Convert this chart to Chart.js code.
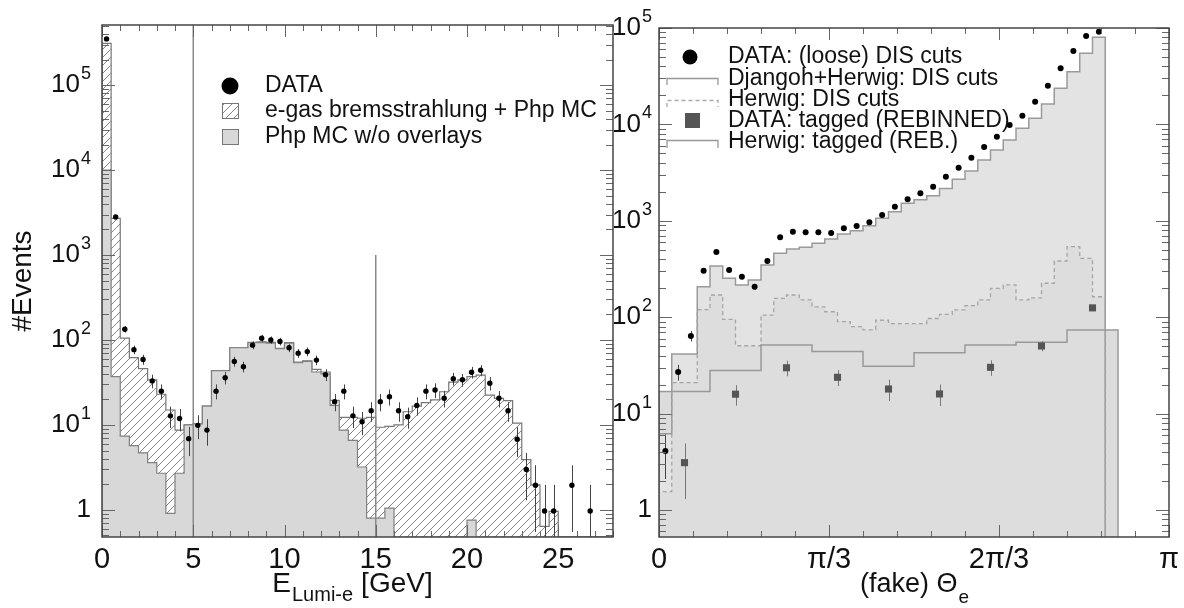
<!DOCTYPE html>
<html lang="en">
<head>
<meta charset="UTF-8">
<title>Lumi-e energy and (fake) theta_e</title>
<script src="https://cdn.jsdelivr.net/npm/chart.js@4.4.1/dist/chart.umd.min.js"></script>
<style>
  body { margin: 0; background: #fff; width: 1184px; height: 608px; position: relative; overflow: hidden; }
  canvas { position: absolute; top: 0; }
  #left { left: 0; }
  #right { left: 605px; }
</style>
</head>
<body>
<canvas id="left" width="620" height="608"></canvas>
<canvas id="right" width="579" height="608"></canvas>
<script>
// ---------- left panel: E_Lumi-e, 0.5 GeV bins from 0 to 28 GeV ----------
const eBin = 0.5;
const eTotal = [3.1e5, 2700, 105, 62, 46, 34, 23, 15, 8.7, 10,
  10.3, 16.7, 43.5, 43.5, 81, 81, 94, 95, 94, 80,
  93, 55, 57, 45, 42, 19.5, 12.3, 12.3, 12, 12.3,
  9.4, 9.6, 10, 14.3, 16.7, 18.3, 19.7, 24.6, 32, 34,
  37, 38.7, 22.5, 20.6, 19.3, 10.5, 3.9, 1.97, 0.64, 0.96,
  0, 0, 0, 0, 0, 0];
const ePhp = [1e4, 37, 7.4, 5.7, 4.7, 3.6, 2.7, 0.91, 2.7, 10,
  10.3, 16.7, 43.5, 43.5, 81, 81, 93, 93, 92, 79,
  92, 54, 56, 42, 40, 17, 8.7, 6.6, 3.2, 0.8,
  0.8, 1.05, 0, 0, 0, 0, 0, 0, 0, 0,
  0.76, 0, 0, 0, 0, 0, 0, 0, 0, 0,
  0, 0, 0, 0, 0, 0];
const eData = [3.5e5, 2800, 134, 77, 59, 33, 25, 12.8, 11.9, 6.9,
  9.9, 8.7, 25, 36, 56, 48.5, 87, 105, 100, 96,
  81, 70, 73, 58, 39, 18.8, 25, 12.8, 10.9, 14.7,
  18.8, 21.5, 14.7, 12.5, 17, 25, 25.8, 20.6, 35, 34,
  41.7, 44, 31, 20.6, 14.7, 6.8, 3.0, 1.95, 0.97, 0.97,
  null, 1.95, null, 0.97, null, null];
const eDataErr = [600, 53, 12, 9, 8, 6, 5, 3.6, 3.5, 2.6,
  3.1, 3, 5, 6, 7.5, 7, 9.3, 10, 10, 9.8,
  9, 8.4, 8.5, 7.6, 6.2, 4.3, 5, 3.6, 3.3, 3.8,
  4.3, 4.6, 3.8, 3.5, 4.1, 5, 5.1, 4.5, 5.9, 5.8,
  6.5, 6.6, 5.6, 4.5, 3.8, 2.6, 1.7, 1.4, 1, 1,
  null, 1.4, null, 1, null, null];
const eCuts = [5, 15];
const eCutTop = [5.1e5, 1000];
const eTickValues = [0, 5, 10, 15, 20, 25];
const eTickLabels = ['0', '5', '10', '15', '20', '25'];

// ---------- right panel: (fake) theta_e, pi/40 bins ----------
const tBin = Math.PI / 40;
const disData = [4.1, 27, 64, 304, 475, 309, 263, 207, 383, 674,
  771, 760, 760, 747, 836, 884, 964, 1148, 1403, 1671,
  1928, 2260, 2870, 3556, 4520, 5835, 7460, 9860, 12300, 17200,
  25200, 38200, 57700, 82600, 91600];
const disErr = [2, 5, 8, 17, 22, 18, 16, 14, 20, 26,
  28, 28, 28, 27, 29, 30, 31, 34, 37, 41,
  44, 48, 54, 60, 67, 76, 86, 99, 111, 131,
  159, 195, 240, 287, 303];
const djangoh = [6.2, 41.5, 41.5, 207, 340, 253, 216, 243, 348, 460,
  510, 531, 584, 648, 730, 790, 889, 1061, 1244, 1518,
  1650, 1822, 2168, 2694, 3290, 4272, 5422, 6888, 9110, 11560,
  16280, 23660, 35240, 54600, 80000];
const herwigDis = [1.55, 21, 21, 120, 170, 95, 50.6, 50.6, 105, 157,
  170, 151, 128, 114, 90, 80, 74, 93, 86, 86,
  86, 97, 107, 119, 132, 151, 199, 216, 151, 159,
  225, 383, 539, 408, 163];
const tagBin = Math.PI / 10;
const herwigTagged = [17, 28, 51.5, 44, 31, 42.8, 51.5, 55, 73.6];
const taggedData = [3.1, 15.9, 29.9, 23.8, 18, 16, 30.2, 50.3, 125];
const taggedErr = [1.8, 3.8, 5.5, 4.5, 4.5, 4, 5.5, 6, 9];
const tTickValues = [0, Math.PI / 3, 2 * Math.PI / 3, Math.PI];
const tTickLabels = ['0', 'π/3', '2π/3', 'π'];

const E_MIN = 0.48, E_MAX = 5.1e5;
const T_MIN = 0.525, T_MAX = 1e5;
const FONT = '"Liberation Sans", Arial, Helvetica, sans-serif';

// histogram outline as step points (bin left edges + closing edge)
function stepPoints(width, vals, floor) {
  const pts = [{ x: 0, y: floor }];
  vals.forEach((v, i) => pts.push({ x: i * width, y: Math.max(v, floor) }));
  const end = vals.length * width;
  pts.push({ x: end, y: Math.max(vals[vals.length - 1], floor) });
  pts.push({ x: end, y: floor });
  return pts;
}
function centerPoints(width, vals, errs) {
  const pts = [];
  vals.forEach((v, i) => { if (v !== null) pts.push({ x: (i + 0.5) * width, y: v, e: errs[i] }); });
  return pts;
}

function hatchPattern() {
  const c = document.createElement('canvas');
  c.width = 8; c.height = 8;
  const g = c.getContext('2d');
  g.fillStyle = '#fff'; g.fillRect(0, 0, 8, 8);
  g.strokeStyle = '#858585'; g.lineWidth = 1;
  g.beginPath();
  g.moveTo(-1, 9); g.lineTo(9, -1);
  g.moveTo(-1, 1); g.lineTo(1, -1);
  g.moveTo(7, 9); g.lineTo(9, 7);
  g.stroke();
  return g.createPattern(c, 'repeat');
}
const hatch = hatchPattern();

// vertical error bars, drawn just before their dataset
const errorBars = {
  id: 'errorBars',
  beforeDatasetDraw(chart, args) {
    const ds = chart.data.datasets[args.index];
    if (!ds.errColor) return;
    const { ctx, chartArea: a } = chart;
    const y = chart.scales.y;
    ctx.save();
    ctx.beginPath(); ctx.rect(a.left, a.top, a.right - a.left, a.bottom - a.top); ctx.clip();
    ctx.strokeStyle = ds.errColor; ctx.lineWidth = 1;
    ctx.beginPath();
    args.meta.data.forEach((pt, i) => {
      const d = ds.data[i];
      if (!d.e) return;
      const lo = d.y - d.e > y.min ? y.getPixelForValue(d.y - d.e) : a.bottom;
      const hi = y.getPixelForValue(d.y + d.e);
      const px = Math.round(pt.x) + 0.5;
      ctx.moveTo(px, lo); ctx.lineTo(px, hi);
    });
    ctx.stroke();
    ctx.restore();
  }
};

function makeAxes(cfg) {
  return {
    id: 'axes',
    afterDraw(chart) {
      const { ctx, chartArea: a } = chart;
      const x = chart.scales.x, y = chart.scales.y;
      ctx.save();
      ctx.strokeStyle = '#666'; ctx.lineWidth = 1;
      ctx.beginPath();
      const d0 = Math.floor(Math.log10(y.min)), d1 = Math.ceil(Math.log10(y.max));
      for (let d = d0; d <= d1; d++) {
        for (let m = 1; m < 10; m++) {
          const v = m * Math.pow(10, d);
          if (v < y.min * 0.999 || v > y.max * 1.001) continue;
          const py = Math.round(y.getPixelForValue(v)) + 0.5;
          const len = m === 1 ? 13 : 7;
          ctx.moveTo(a.left, py); ctx.lineTo(a.left + len, py);
          ctx.moveTo(a.right, py); ctx.lineTo(a.right - len, py);
        }
      }
      const n = Math.round((x.max - x.min) / cfg.xStep);
      for (let i = 0; i <= n; i++) {
        const px = Math.round(x.getPixelForValue(x.min + i * cfg.xStep)) + 0.5;
        const len = i % cfg.xMajorEvery === 0 ? 12 : 6;
        ctx.moveTo(px, a.bottom); ctx.lineTo(px, a.bottom - len);
        ctx.moveTo(px, a.top); ctx.lineTo(px, a.top + len);
      }
      ctx.stroke();
      ctx.lineWidth = 1.5; ctx.strokeStyle = '#444';
      ctx.strokeRect(a.left, a.top, a.right - a.left, a.bottom - a.top);

      // y labels 1, 10^1 ... 10^5
      ctx.fillStyle = '#111';
      ctx.textBaseline = 'middle';
      ctx.textAlign = 'right';
      const right = a.left - cfg.yLabelGap;
      for (let d = Math.ceil(Math.log10(y.min)); d <= Math.floor(Math.log10(y.max) + 1e-9); d++) {
        const py = y.getPixelForValue(Math.pow(10, d));
        if (d === 0) {
          ctx.font = '26px ' + FONT;
          ctx.fillText('1', right, py);
          continue;
        }
        ctx.font = '18px ' + FONT;
        const sw = ctx.measureText(String(d)).width;
        ctx.fillText(String(d), right, py - 11);
        ctx.font = '26px ' + FONT;
        ctx.fillText('10', right - sw - 1, py);
      }
      // x labels
      ctx.font = '29px ' + FONT;
      ctx.textAlign = 'center';
      ctx.textBaseline = 'alphabetic';
      cfg.xLabels.forEach((t, i) => ctx.fillText(t, x.getPixelForValue(cfg.xLabelValues[i]), 568));

      cfg.extra(ctx);
      ctx.restore();
    }
  };
}

function baseOptions(xMax, yMin, yMax, pad) {
  return {
    responsive: false, animation: false, events: [],
    layout: { padding: pad },
    plugins: { legend: { display: false }, tooltip: { enabled: false } },
    scales: {
      x: { type: 'linear', min: 0, max: xMax, display: false },
      y: { type: 'logarithmic', min: yMin, max: yMax, display: false }
    }
  };
}

// ---------- left chart ----------
const leftDatasets = [
  { data: stepPoints(eBin, eTotal, E_MIN), stepped: true, fill: 'start', backgroundColor: hatch,
    borderColor: '#777', borderWidth: 1.2, pointRadius: 0, order: 10 },
  { data: stepPoints(eBin, ePhp, E_MIN), stepped: true, fill: 'start', backgroundColor: '#d8d8d8',
    borderColor: '#808080', borderWidth: 1.2, pointRadius: 0, order: 9 }
];
eCuts.forEach((c, i) => leftDatasets.push({
  data: [{ x: c, y: E_MIN }, { x: c, y: eCutTop[i] }], borderColor: '#8a8a8a', borderWidth: 1.5,
  pointRadius: 0, fill: false, order: 5
}));
leftDatasets.push({
  data: centerPoints(eBin, eData, eDataErr), showLine: false, pointRadius: 2.7,
  pointBackgroundColor: '#000', pointBorderWidth: 0, errColor: '#444', order: 1
});

new Chart(document.getElementById('left'), {
  type: 'line',
  data: { datasets: leftDatasets },
  options: baseOptions(28, E_MIN, E_MAX, { left: 102, top: 25, right: 7, bottom: 71 }),
  plugins: [errorBars, makeAxes({
    xStep: 1, xMajorEvery: 5, yLabelGap: 11,
    xLabels: eTickLabels, xLabelValues: eTickValues,
    extra(ctx) {
      // legend
      ctx.fillStyle = '#000';
      ctx.beginPath(); ctx.arc(230, 86, 8.5, 0, 2 * Math.PI); ctx.fill();
      ctx.fillStyle = hatch; ctx.fillRect(222, 103, 16, 15);
      ctx.strokeStyle = '#777'; ctx.lineWidth = 1; ctx.strokeRect(222.5, 103.5, 16, 15);
      ctx.fillStyle = '#d8d8d8'; ctx.fillRect(222, 129, 16, 15);
      ctx.strokeRect(222.5, 129.5, 16, 15);
      ctx.fillStyle = '#111';
      ctx.font = '23px ' + FONT; ctx.textAlign = 'left'; ctx.textBaseline = 'middle';
      ctx.fillText('DATA', 265, 86);
      ctx.fillText('e-gas bremsstrahlung + Php MC', 265, 111);
      ctx.fillText('Php MC w/o overlays', 265, 137);
      // axis titles
      ctx.textBaseline = 'alphabetic';
      ctx.font = '28px ' + FONT;
      const wE = ctx.measureText('E').width, wG = ctx.measureText('[GeV]').width;
      ctx.font = '20px ' + FONT;
      const wS = ctx.measureText('Lumi-e').width;
      let x0 = 352 - (wE + wS + 8 + wG) / 2;
      ctx.font = '28px ' + FONT; ctx.fillText('E', x0, 592);
      ctx.font = '20px ' + FONT; ctx.fillText('Lumi-e', x0 + wE + 1, 601);
      ctx.font = '28px ' + FONT; ctx.fillText('[GeV]', x0 + wE + wS + 9, 592);
      ctx.save();
      ctx.translate(23, 281); ctx.rotate(-Math.PI / 2);
      ctx.textAlign = 'center'; ctx.textBaseline = 'middle';
      ctx.font = '28px ' + FONT; ctx.fillText('#Events', 0, 0);
      ctx.restore();
    }
  })]
});

// ---------- right chart ----------
const tagPts = stepPoints(tagBin, herwigTagged, T_MIN);
const rightDatasets = [
  { data: tagPts, stepped: true, fill: 'start', backgroundColor: '#dcdcdc', borderWidth: 0,
    pointRadius: 0, order: 10 },
  { data: stepPoints(tBin, djangoh, T_MIN), stepped: true, fill: 'start', backgroundColor: '#e3e3e3',
    borderColor: '#9a9a9a', borderWidth: 1.5, pointRadius: 0, order: 9 },
  { data: stepPoints(tBin, herwigDis, T_MIN), stepped: true, fill: 'start', backgroundColor: 'rgba(0,0,0,0.025)',
    borderColor: '#a5a5a5', borderWidth: 1.3, borderDash: [4, 3], pointRadius: 0, order: 8 },
  { data: tagPts, stepped: true, fill: false, borderColor: '#999', borderWidth: 1.5, pointRadius: 0, order: 7 },
  { data: centerPoints(tagBin, taggedData, taggedErr), showLine: false, pointStyle: 'rect', pointRadius: 5,
    pointBackgroundColor: '#555', pointBorderWidth: 0, errColor: '#777', order: 2 },
  { data: centerPoints(tBin, disData, disErr), showLine: false, pointRadius: 3,
    pointBackgroundColor: '#000', pointBorderWidth: 0, errColor: '#444', order: 1 }
];

new Chart(document.getElementById('right'), {
  type: 'line',
  data: { datasets: rightDatasets },
  options: baseOptions(Math.PI, T_MIN, T_MAX, { left: 54, top: 28, right: 15, bottom: 71 }),
  plugins: [errorBars, makeAxes({
    xStep: Math.PI / 15, xMajorEvery: 5, yLabelGap: 7,
    xLabels: tTickLabels, xLabelValues: tTickValues,
    extra(ctx) {
      // legend
      ctx.fillStyle = '#000';
      ctx.beginPath(); ctx.arc(85, 57, 7.5, 0, 2 * Math.PI); ctx.fill();
      ctx.lineWidth = 1.3;
      ctx.strokeStyle = '#999';
      ctx.beginPath(); ctx.moveTo(62, 85); ctx.lineTo(62, 78.5); ctx.lineTo(113, 78.5); ctx.lineTo(113, 85); ctx.stroke();
      ctx.strokeStyle = '#aaa'; ctx.setLineDash([4, 3]);
      ctx.beginPath(); ctx.moveTo(62, 107); ctx.lineTo(62, 100.5); ctx.lineTo(113, 100.5); ctx.lineTo(113, 107); ctx.stroke();
      ctx.setLineDash([]);
      ctx.fillStyle = '#555'; ctx.fillRect(80, 113, 15, 15);
      ctx.strokeStyle = '#999';
      ctx.beginPath(); ctx.moveTo(62, 148); ctx.lineTo(62, 140.5); ctx.lineTo(113, 140.5); ctx.lineTo(113, 148); ctx.stroke();
      ctx.fillStyle = '#111';
      ctx.font = '23px ' + FONT; ctx.textAlign = 'left'; ctx.textBaseline = 'middle';
      ctx.fillText('DATA: (loose) DIS cuts', 123, 57);
      ctx.fillText('Djangoh+Herwig: DIS cuts', 123, 79);
      ctx.fillText('Herwig: DIS cuts', 123, 100);
      ctx.fillText('DATA: tagged (REBINNED)', 123, 121);
      ctx.fillText('Herwig: tagged (REB.)', 123, 142);
      // axis title
      ctx.textBaseline = 'alphabetic';
      ctx.font = '27px ' + FONT;
      const wT = ctx.measureText('(fake) Θ').width;
      ctx.font = '19px ' + FONT;
      const wS = ctx.measureText('e').width;
      const x0 = 309 - (wT + wS) / 2;
      ctx.font = '27px ' + FONT; ctx.fillText('(fake) Θ', x0, 592);
      ctx.font = '19px ' + FONT; ctx.fillText('e', x0 + wT + 1, 603);
    }
  })]
});
</script>
</body>
</html>
